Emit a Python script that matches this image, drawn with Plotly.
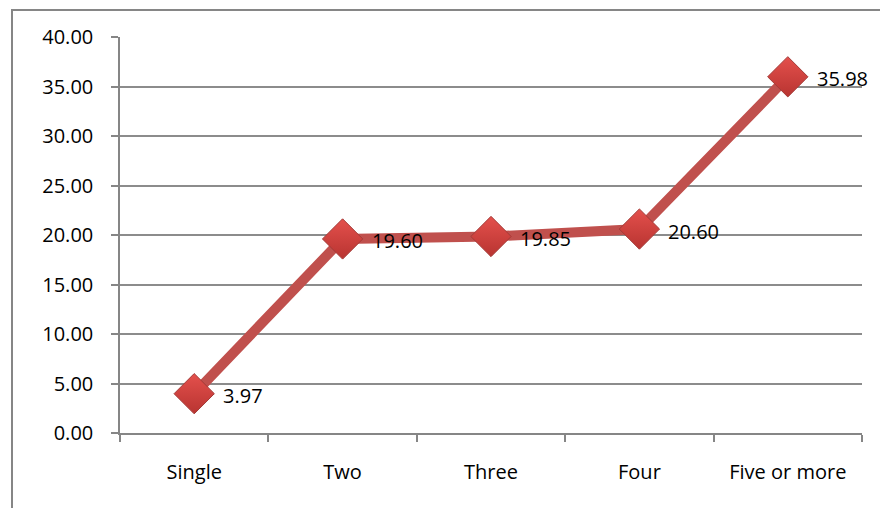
import plotly.graph_objects as go

categories = ["Single", "Two", "Three", "Four", "Five or more"]
values = [3.97, 19.60, 19.85, 20.60, 35.98]
label_text = ["3.97", "19.60", "19.85", "20.60", "35.98"]
y_ticks = [0, 5, 10, 15, 20, 25, 30, 35, 40]
y_tick_text = ["0.00", "5.00", "10.00", "15.00", "20.00", "25.00", "30.00", "35.00", "40.00"]

W, H = 880, 508
ml, mr, mt, mb = 120, 18, 37, 75
pw, ph = W - ml - mr, H - mt - mb
FONT = "Open Sans, Liberation Sans, sans-serif"

fig = go.Figure()
fig.add_trace(go.Scatter(
    x=categories, y=values, mode="lines+markers",
    line=dict(color="#C0504D", width=10),
    marker=dict(symbol="diamond", size=31, color="#E4504C",
                gradient=dict(type="vertical", color="#B83431"),
                line=dict(color="#A33A37", width=1)),
    cliponaxis=False, showlegend=False,
))

for c, v, t in zip(categories, values, label_text):
    fig.add_annotation(x=c, y=v, text=t, showarrow=False, xanchor="left", yanchor="middle",
                       xshift=27, yshift=-2,
                       font=dict(family=FONT, size=20, color="#000000"))

# chart outer border (left and top visible)
fig.add_shape(type="rect", xref="paper", yref="paper",
              x0=(12 - ml) / pw, x1=(W + 20 - ml) / pw,
              y0=-(mb + 20) / ph, y1=(H - 10 - mb) / ph,
              line=dict(color="#868686", width=2), fillcolor="rgba(0,0,0,0)", layer="below")

fig.update_layout(
    width=W, height=H,
    margin=dict(l=ml, r=mr, t=mt, b=mb),
    paper_bgcolor="white", plot_bgcolor="white",
    font=dict(family=FONT, size=20, color="#000000"),
    xaxis=dict(range=[-0.5, 4.5], showgrid=False, showline=True, linecolor="#868686", linewidth=1.5,
               ticks="outside", ticklen=7, tickcolor="#868686", tickwidth=1.5, tickson="boundaries",
               ticklabelstandoff=20, tickfont=dict(size=20), fixedrange=True),
    yaxis=dict(range=[0, 40], tickvals=y_ticks, ticktext=y_tick_text, showgrid=True,
               gridcolor="#8C8C8C", gridwidth=1.5, showline=True, linecolor="#868686", linewidth=1.5,
               ticks="outside", ticklen=7, tickcolor="#868686", tickwidth=1.5, zeroline=False,
               ticklabelstandoff=14, tickfont=dict(size=20), fixedrange=True),
)

fig.write_html("out.html")
